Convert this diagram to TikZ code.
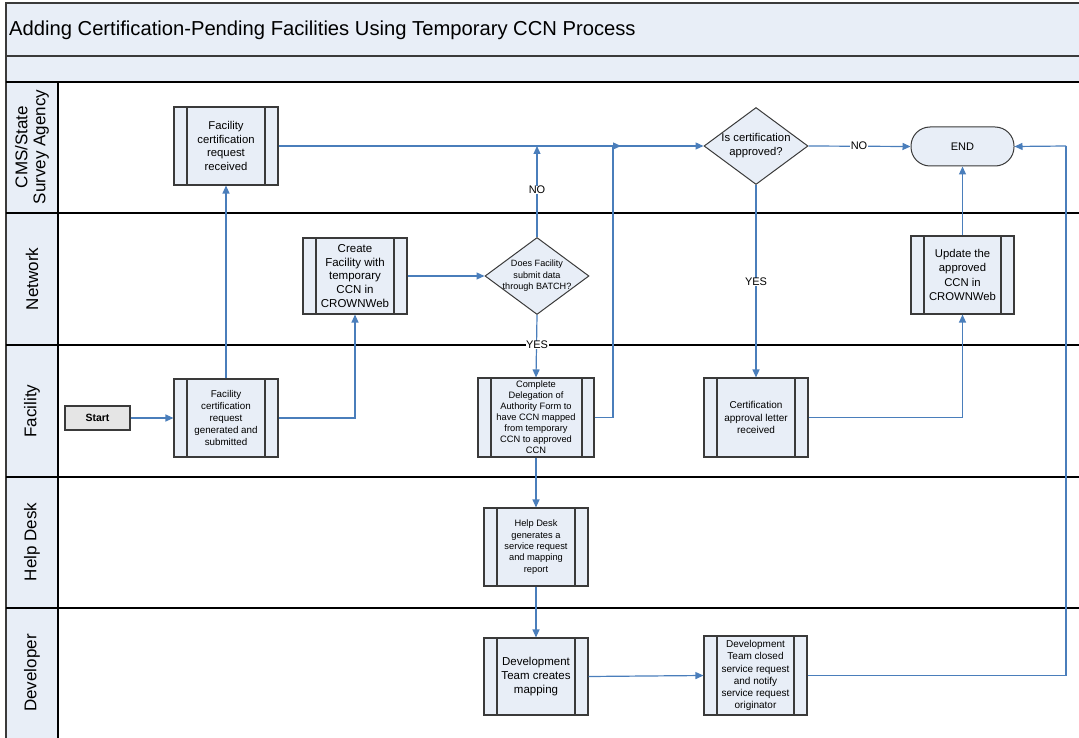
\documentclass[tikz,border=0pt]{standalone}
\usepackage{fontspec}
\setmainfont{Liberation Sans}
\usetikzlibrary{shapes.geometric,arrows.meta}
\definecolor{boxfill}{HTML}{E8EEF7}
\definecolor{flow}{HTML}{4A7EBB}
\definecolor{edgecol}{HTML}{3A3A3A}
\newcommand{\fs}[2]{\fontsize{#1}{#2}\selectfont}
\tikzset{
  proc/.style={draw=edgecol, line width=1.1pt, fill=boxfill, minimum width=104pt,
    minimum height=78pt, inner sep=0pt, align=center,
    path picture={\draw[edgecol, line width=1.1pt]
      ([xshift=13pt]path picture bounding box.north west) -- ([xshift=13pt]path picture bounding box.south west)
      ([xshift=-13pt]path picture bounding box.north east) -- ([xshift=-13pt]path picture bounding box.south east);}},
  decision/.style={diamond, draw=edgecol, line width=1pt, fill=boxfill, minimum width=104pt,
    minimum height=77pt, inner sep=0pt},
  dtext/.style={align=center, inner sep=0pt},
  terminal/.style={draw=edgecol, line width=1pt, fill=boxfill, rounded corners=19pt,
    minimum width=103pt, minimum height=39pt, inner sep=0pt, font=\fs{11}{13}},
  startbox/.style={draw=edgecol, line width=1.1pt, fill=gray!20, minimum width=65pt,
    minimum height=24pt, inner sep=0pt, font=\fs{10.5}{12}\bfseries},
  conn/.style={draw=flow, line width=1.2pt, -{Triangle[length=8pt,width=7pt]}},
  plainconn/.style={draw=flow, line width=1.2pt},
  lbl/.style={fill=white, inner sep=0.5pt, font=\fs{11}{13}},
  lanelbl/.style={rotate=90, align=center, font=\fs{17}{18}},
  laneline/.style={draw=black, line width=1.3pt}
}
\begin{document}
\begin{tikzpicture}[x=1pt, y=-1pt]
\useasboundingbox (0,0) rectangle (1079,738);
\clip (0,0) rectangle (1079,738);
% background bands
\fill[boxfill] (6,3) rectangle (1090,82);
\fill[boxfill] (6,82) rectangle (58,745);
\draw[edgecol, line width=1.3pt] (6,745) -- (6,3) -- (1090,3);
\draw[edgecol, line width=1.2pt] (6,56) -- (1090,56);
\draw[laneline] (6,82) -- (1090,82);
\draw[laneline] (6,213) -- (1090,213);
\draw[laneline] (6,345) -- (1090,345);
\draw[laneline] (6,477) -- (1090,477);
\draw[laneline] (6,608) -- (1090,608);
\draw[black, line width=1.3pt] (58,82) -- (58,745);
\node[anchor=west, inner sep=0pt, font=\fs{20.2}{23}] (title) at (9,30.5) {Adding Certification-Pending Facilities Using Temporary CCN Process};
% lane labels
\node[lanelbl] (l1) at (32,147) {CMS/State\\Survey Agency};
\node[lanelbl] (l2) at (32,279) {Network};
\node[lanelbl] (l3) at (32,411) {Facility};
\node[lanelbl] (l4) at (32,542) {Help Desk};
\node[lanelbl] (l5) at (32,673) {Developer};
% nodes
\node[startbox] (start) at (97.5,418) {Start};
\node[proc, font=\fs{11.3}{13.8}] (recv) at (226,146) {Facility\\certification\\request\\received};
\node[proc, font=\fs{9.8}{12}] (gen) at (226,418) {Facility\\certification\\request\\generated and\\submitted};
\node[proc, font=\fs{11.5}{13.7}, minimum height=76pt] (create) at (355,276) {Create\\Facility with\\temporary\\CCN in\\CROWNWeb};
\node[decision] (batch) at (537,276) {};
\node[dtext, font=\fs{9.1}{11.6}] (batcht) at (537,276) {Does Facility\\submit data\\through BATCH?};
\node[proc, font=\fs{9.3}{11}, minimum width=116pt, minimum height=79pt,
  path picture={\draw[edgecol, line width=1.1pt]
      ([xshift=13pt]path picture bounding box.north west) -- ([xshift=13pt]path picture bounding box.south west)
      ([xshift=-12pt]path picture bounding box.north east) -- ([xshift=-12pt]path picture bounding box.south east);}]
  (complete) at (536,417.5) {Complete\\Delegation of\\Authority Form to\\have CCN mapped\\from temporary\\CCN to approved\\CCN};
\node[proc, font=\fs{9.3}{11.4}] (help) at (536,547) {Help Desk\\generates a\\service request\\and mapping\\report};
\node[proc, font=\fs{11.5}{13.8}, minimum height=77pt] (devmap) at (536,676.5) {Development\\Team creates\\mapping};
\node[proc, font=\fs{10}{12.1}, minimum width=103pt, minimum height=79pt] (devclose) at (755.5,675.5) {Development\\Team closed\\service request\\and notify\\service request\\originator};
\node[decision] (certq) at (756,146) {};
\node[dtext, font=\fs{11.3}{14}] (certqt) at (756,146) {Is certification\\approved?};
\node[terminal] (end) at (962.5,146.5) {END};
\node[proc, font=\fs{11.3}{14.1}, minimum width=103pt] (update) at (962.5,275) {Update the\\approved\\CCN in\\CROWNWeb};
\node[proc, font=\fs{10}{12.5}, minimum height=79pt] (letter) at (756,417.5) {Certification\\approval letter\\received};
% helper coordinates
\coordinate (nojoin) at (537,146);
\coordinate (cjoin) at (621,146);
\coordinate (rjoin) at (1066,146);
% connectors
\draw[conn] (start.east) -- (gen.west);
\draw[conn] (gen.north) -- (recv.south);
\draw[conn] (gen.east) -| (create.south);
\draw[conn] (create.east) -- (batch.west);
\draw[conn] (batch.north) -- (nojoin);
\node[lbl] (nolbl1) at (537,190) {NO};
\draw[conn] (recv.east) -- (certq.west);
\draw[plainconn] (complete.east) -| ([xshift=-8pt]cjoin);
\draw[conn] ([xshift=-8pt]cjoin) -- (cjoin);
\draw[conn] (batch.south) -- (complete.north);
\node[lbl] (yeslbl1) at (537,345) {YES};
\draw[conn] (complete.south) -- (help.north);
\draw[conn] (help.south) -- (devmap.north);
\draw[conn] (devmap.east) -- (devclose.west);
\draw[plainconn] (devclose.east) -| (rjoin);
\draw[conn] (rjoin) -- (end.east);
\draw[conn] (certq.east) -- (end.west);
\node[lbl] (nolbl2) at (859,146) {NO};
\draw[conn] (certq.south) -- (letter.north);
\node[lbl] (yeslbl2) at (756,282) {YES};
\draw[conn] (letter.east) -| (update.south);
\draw[conn] (update.north) -- (end.south);
\end{tikzpicture}
\end{document}
